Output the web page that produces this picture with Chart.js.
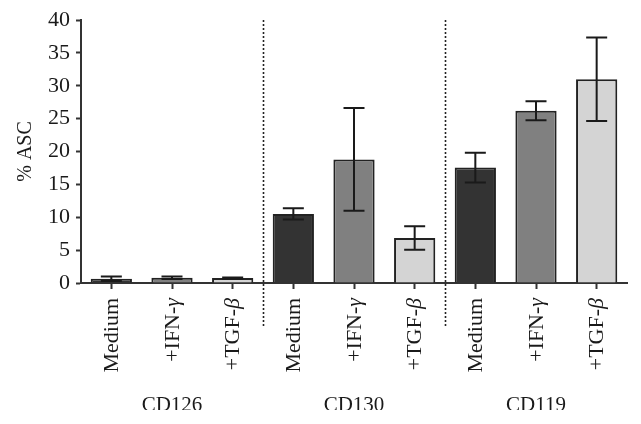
<!DOCTYPE html>
<html>
<head>
    <title>% ASC by receptor</title>
    <style>
        body { margin: 0; background: #fff; }
        canvas { display: block; }
    </style>
</head>
<body>
    <canvas id="ascChart" width="641" height="424"></canvas>

    <script src="https://cdn.jsdelivr.net/npm/chart.js"></script>
    <script>
        // data
        const labels = ['Medium', '+IFN-γ', '+TGF-β', 'Medium', '+IFN-γ', '+TGF-β', 'Medium', '+IFN-γ', '+TGF-β'];
        const groups = ['CD126', 'CD130', 'CD119'];
        const values = [0.65, 0.8, 0.75, 10.5, 18.8, 6.85, 17.55, 26.2, 31.0];
        const errors = [0.35, 0.2, 0.1, 0.85, 7.8, 1.8, 2.25, 1.45, 6.35];
        const yTicks = [0, 5, 10, 15, 20, 25, 30, 35, 40];

        const fills = ['#333333', '#808080', '#d4d4d4'];
        const serif = "'Liberation Serif', 'Times New Roman', serif";
        const ink = '#1a1a1a';

        // error bars
        const errorBars = {
            id: 'errorBars',
            afterDatasetsDraw(chart) {
                const ctx = chart.ctx;
                const y = chart.scales.y;
                const meta = chart.getDatasetMeta(0);
                ctx.save();
                ctx.strokeStyle = ink;
                ctx.lineWidth = 2;
                meta.data.forEach((bar, i) => {
                    const top = y.getPixelForValue(values[i] + errors[i]);
                    const bot = y.getPixelForValue(values[i] - errors[i]);
                    const half = 10.5;
                    ctx.beginPath();
                    ctx.moveTo(bar.x, top); ctx.lineTo(bar.x, bot);
                    ctx.moveTo(bar.x - half, top); ctx.lineTo(bar.x + half, top);
                    ctx.moveTo(bar.x - half, bot); ctx.lineTo(bar.x + half, bot);
                    ctx.stroke();
                });
                ctx.restore();
            }
        };

        // rotated tick labels with italic greek, dotted separators and group names
        const decorations = {
            id: 'decorations',
            afterDraw(chart) {
                const ctx = chart.ctx;
                const x = chart.scales.x;
                const area = chart.chartArea;
                ctx.save();

                // dotted lines between groups
                ctx.strokeStyle = '#222';
                ctx.lineWidth = 1.6;
                ctx.setLineDash([2, 2]);
                [3, 6].forEach(i => {
                    const px = Math.round((x.getPixelForValue(i - 1) + x.getPixelForValue(i)) / 2) + 0.5;
                    ctx.beginPath();
                    ctx.moveTo(px, area.top);
                    ctx.lineTo(px, 328);
                    ctx.stroke();
                });
                ctx.setLineDash([]);

                // category labels, reading bottom to top
                ctx.fillStyle = ink;
                ctx.textBaseline = 'middle';
                ctx.textAlign = 'left';
                labels.forEach((lab, i) => {
                    const parts = lab.split(/([γβ])/).filter(s => s.length);
                    const fonts = parts.map(p => (/[γβ]/.test(p) ? 'italic ' : '') + '22px ' + serif);
                    let total = 0;
                    const widths = parts.map((p, k) => { ctx.font = fonts[k]; const w = ctx.measureText(p).width; total += w; return w; });
                    ctx.save();
                    ctx.translate(x.getPixelForValue(i) + 1, 298);
                    ctx.rotate(-Math.PI / 2);
                    let cx = -total;
                    parts.forEach((p, k) => {
                        ctx.font = fonts[k];
                        ctx.fillText(p, cx, 0);
                        cx += widths[k];
                    });
                    ctx.restore();
                });

                // group names, cut off at the bottom like the source figure
                ctx.beginPath();
                ctx.rect(0, 0, chart.width, 410);
                ctx.clip();
                ctx.font = '21px ' + serif;
                ctx.textAlign = 'center';
                ctx.textBaseline = 'alphabetic';
                groups.forEach((g, k) => {
                    ctx.fillText(g, x.getPixelForValue(k * 3 + 1), 411);
                });
                ctx.restore();
            }
        };

        const ctx = document.getElementById('ascChart').getContext('2d');
        const chart = new Chart(ctx, {
            type: 'bar',
            data: {
                labels: labels,
                datasets: [{
                    data: values,
                    backgroundColor: labels.map((l, i) => fills[i % 3]),
                    borderColor: '#222',
                    borderWidth: 2,
                    barPercentage: 0.68,
                    categoryPercentage: 1
                }]
            },
            options: {
                responsive: false,
                animation: false,
                devicePixelRatio: 1,
                layout: { padding: { top: 20, right: 14, left: 0, bottom: 0 } },
                plugins: {
                    legend: { display: false },
                    tooltip: { enabled: false }
                },
                scales: {
                    x: {
                        offset: true,
                        grid: { offset: false, drawOnChartArea: false, tickLength: 6, tickWidth: 2, tickColor: '#333' },
                        border: { color: '#333', width: 2 },
                        ticks: { display: false },
                        afterFit(scale) { scale.height = 141; }
                    },
                    y: {
                        min: 0,
                        max: 40,
                        afterBuildTicks(scale) { scale.ticks = yTicks.map(v => ({ value: v })); },
                        grid: { drawOnChartArea: false, tickLength: 5, tickWidth: 2, tickColor: '#333' },
                        border: { color: '#333', width: 2 },
                        ticks: { color: ink, padding: 6, font: { family: serif, size: 22 } },
                        title: {
                            display: true,
                            text: '% ASC',
                            color: ink,
                            font: { family: serif, size: 20 },
                            padding: { top: 14, bottom: 0 }
                        },
                        afterFit(scale) { scale.width = 81; }
                    }
                }
            },
            plugins: [errorBars, decorations]
        });
    </script>
</body>
</html>
